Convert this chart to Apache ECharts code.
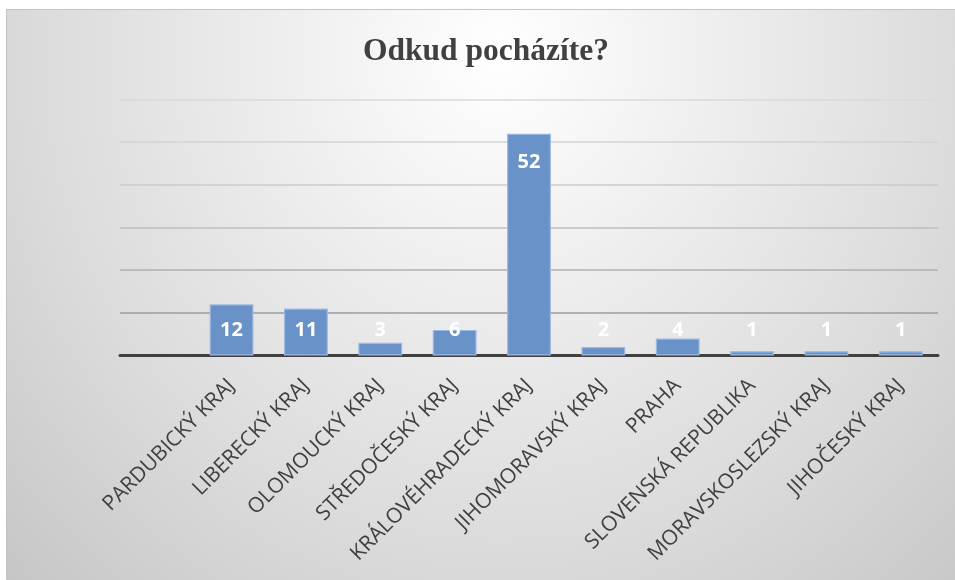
<!DOCTYPE html>
<html>
<head>
<meta charset="utf-8">
<script src="https://cdn.jsdelivr.net/npm/echarts@6/dist/echarts.min.js"></script>
<style>
  html, body { margin: 0; padding: 0; background: #ffffff; }
  #wrap {
    position: absolute; left: 6px; top: 9px; width: 949px; height: 571px;
    box-sizing: border-box; border-top: 1px solid #c4c4c4; border-left: 1px solid #c4c4c4;
    background: radial-gradient(ellipse farthest-corner at 52% 8%, #ffffff 0%, #ececec 35%, #dcdcdc 65%, #c6c6c6 100%);
  }
  #chart { width: 948px; height: 570px; }
</style>
</head>
<body>
<div id="wrap"><div id="chart"></div></div>
<script>
const titleText = 'Odkud pocházíte?';
const categories = ['', 'PARDUBICKÝ KRAJ', 'LIBERECKÝ KRAJ', 'OLOMOUCKÝ KRAJ', 'STŘEDOČESKÝ KRAJ',
  'KRÁLOVÉHRADECKÝ KRAJ', 'JIHOMORAVSKÝ KRAJ', 'PRAHA', 'SLOVENSKÁ REPUBLIKA',
  'MORAVSKOSLEZSKÝ KRAJ', 'JIHOČESKÝ KRAJ'];
const values = [null, 12, 11, 3, 6, 52, 2, 4, 1, 1, 1];
const yMin = 0, yMax = 60, yInterval = 10;

const gridColors = ['#404040', '#9c9c9c', '#b0b0b0', '#bebebe', '#cbcbcb', '#d3d3d3', '#dadada'];

const chart = echarts.init(document.getElementById('chart'));
chart.setOption({
  backgroundColor: 'transparent',
  title: {
    text: titleText, left: 351, top: 21,
    textStyle: { fontFamily: 'Liberation Serif', fontWeight: 'bold', fontSize: 31.5, color: '#404040' }
  },
  grid: { left: 113, right: 17, top: 89.5, bottom: 224.5, containLabel: false },
  xAxis: {
    type: 'category', data: categories,
    axisLine: { show: true, lineStyle: { color: '#404040', width: 3 } },
    axisTick: { show: false },
    axisLabel: {
      interval: 0, rotate: 45, margin: 27,
      fontFamily: 'Open Sans', fontSize: 21, color: '#404040'
    }
  },
  yAxis: {
    type: 'value', min: yMin, max: yMax, interval: yInterval,
    axisLine: { show: false }, axisTick: { show: false }, axisLabel: { show: false },
    splitLine: { show: true, lineStyle: { color: gridColors, width: 1.5 } }
  },
  series: [{
    type: 'bar',
    barWidth: '59%',
    data: values.map(v => ({
      value: v,
      label: { position: v > 12 ? 'insideTop' : 'insideBottom', distance: v > 12 ? 19 : 15 }
    })),
    itemStyle: { color: '#6892c8', borderColor: '#9cb9e0', borderWidth: 1.2 },
    label: {
      show: true, color: '#ffffff', fontFamily: 'Open Sans', fontWeight: 'bold', fontSize: 20
    },
    animation: false
  }],
  animation: false
});
</script>
</body>
</html>
